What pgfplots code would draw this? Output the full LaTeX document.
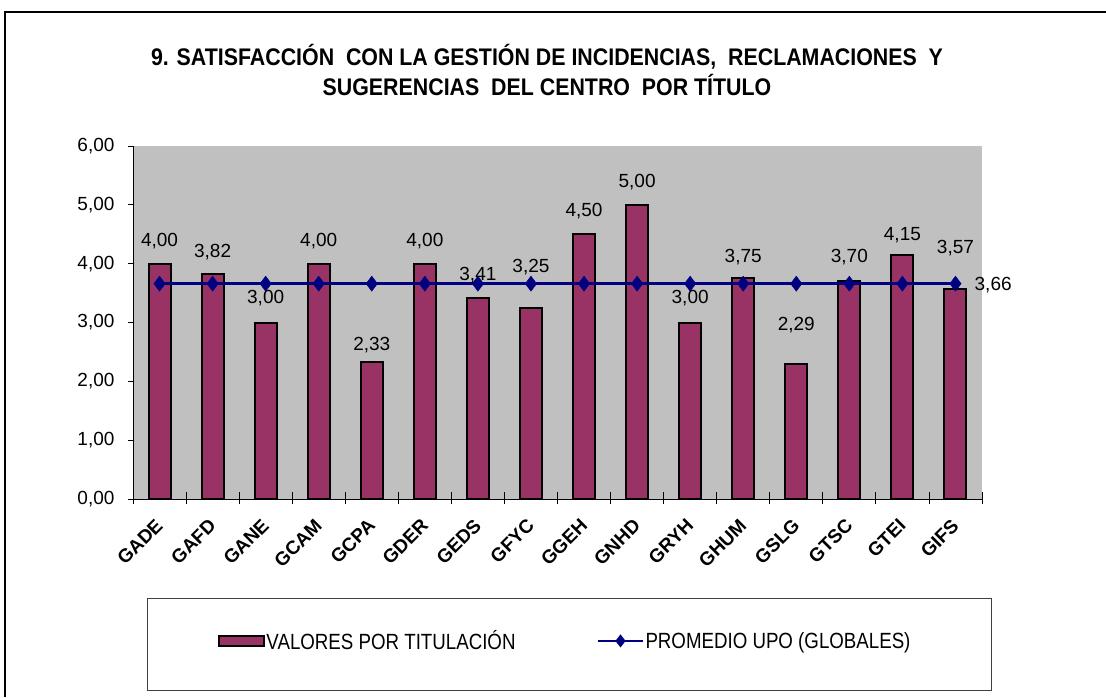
\documentclass[border=0pt]{standalone}
\usepackage{fontspec}
\setmainfont{Liberation Sans}
\newfontfamily\titlefont[FakeStretch=0.89]{Liberation Sans}
\newfontfamily\legendfont[FakeStretch=0.85]{Liberation Sans}
\usepackage{pgfplots}
\usepackage{pgfplotstable}
\pgfplotsset{compat=1.18}

\definecolor{barcol}{HTML}{993366}
\definecolor{linecol}{HTML}{000080}
\definecolor{plotbg}{HTML}{C0C0C0}

% x: category index, y: value, ly: where the data label sits
\pgfplotstableread{
x y ly
0 4.00 4.39
1 3.82 4.20
2 3.00 3.42
3 4.00 4.39
4 2.33 2.62
5 4.00 4.39
6 3.41 3.81
7 3.25 3.94
8 4.50 4.90
9 5.00 5.39
10 3.00 3.42
11 3.75 4.11
12 2.29 2.96
13 3.70 4.11
14 4.15 4.49
15 3.57 4.27
}\datatable

\begin{document}
\begin{tikzpicture}[x=1pt,y=1pt]
  \useasboundingbox (0,0) rectangle (1106,-697);
  \draw[black, line width=1.5pt] (5,-697) -- (5,-12) -- (1106,-12);
  \node[align=center, font=\titlefont\bfseries\fontsize{24}{30}\selectfont] at (547,-70)
    {9. SATISFACCIÓN\ \ CON LA GESTIÓN DE INCIDENCIAS,\ \ RECLAMACIONES\ \ Y\\SUGERENCIAS\ \ DEL CENTRO\ \ POR TÍTULO};
  \draw[black!75, line width=1pt] (147,-598) rectangle (991,-690);

  \begin{axis}[
      at={(133pt,-499pt)}, anchor=south west,
      scale only axis, width=849pt, height=353pt,
      xmin=-0.5, xmax=15.5, ymin=0, ymax=6,
      clip=false,
      axis x line*=bottom, axis y line*=left,
      axis line style={black, line width=1pt},
      axis background/.style={fill=plotbg},
      xtick={0,...,15},
      xticklabels={GADE,GAFD,GANE,GCAM,GCPA,GDER,GEDS,GFYC,GGEH,GNHD,GRYH,GHUM,GSLG,GTSC,GTEI,GIFS},
      minor xtick={-0.5,0.5,...,15.5},
      ytick={0,1,...,6},
      tick align=outside,
      major tick length=5pt, minor tick length=12pt,
      major x tick style={draw=none},
      minor x tick style={black, line width=0.8pt, yshift=7pt},
      major y tick style={black, line width=0.8pt},
      yticklabel style={font=\fontsize{19}{21}\selectfont, xshift=-10pt,
        /pgf/number format/.cd, fixed, fixed zerofill, precision=2, use comma, assume math mode=true},
      xticklabel style={font=\bfseries\fontsize{19}{21}\selectfont, rotate=45,
        anchor=north east, inner sep=0pt, xshift=-13pt, yshift=-6pt},
      legend style={at={(0.5088,-0.402)}, anchor=center, draw=none, fill=none,
        legend columns=2, font=\legendfont\fontsize{22}{24}\selectfont,
        /tikz/every even column/.append style={column sep=80pt},
        nodes={inner sep=1.5pt}},
      legend cell align=left,
    ]
    \addplot[ybar, bar width=22pt, fill=barcol, draw=black, line width=2pt,
      legend image code/.code={\draw[fill=barcol, draw=black, line width=2pt] (0pt,-5pt) rectangle (45pt,5pt);}]
      table[x=x, y=y] {\datatable};
    \addlegendentry{VALORES POR TITULACIÓN}
    \addplot[linecol, line width=2.5pt, mark=diamond*, mark size=7.5pt,
      mark options={fill=linecol, draw=linecol, line width=0.5pt},
      legend image code/.code={\draw[linecol, line width=2pt] (0pt,0pt) -- (45pt,0pt);
        \fill[linecol] (22.5pt,4.5pt) -- (26pt,0pt) -- (22.5pt,-4.5pt) -- (19pt,0pt) -- cycle;}]
      coordinates {(0,3.66) (1,3.66) (2,3.66) (3,3.66) (4,3.66) (5,3.66) (6,3.66) (7,3.66)
        (8,3.66) (9,3.66) (10,3.66) (11,3.66) (12,3.66) (13,3.66) (14,3.66) (15,3.66)};
    \addlegendentry{PROMEDIO UPO (GLOBALES)}
    \addplot[draw=none, mark=none, forget plot, point meta=\thisrow{y},
      nodes near coords={\pgfmathprintnumber[fixed,fixed zerofill,precision=2,use comma,assume math mode=true]{\pgfplotspointmeta}},
      nodes near coords align={center},
      nodes near coords style={font=\fontsize{19}{21}\selectfont, inner sep=0pt}]
      table[x=x, y=ly] {\datatable};
    \node[anchor=west, inner sep=0pt, font=\fontsize{19}{21}\selectfont, xshift=19pt] at (axis cs:15,3.64) {3,66};
  \end{axis}
\end{tikzpicture}
\end{document}
